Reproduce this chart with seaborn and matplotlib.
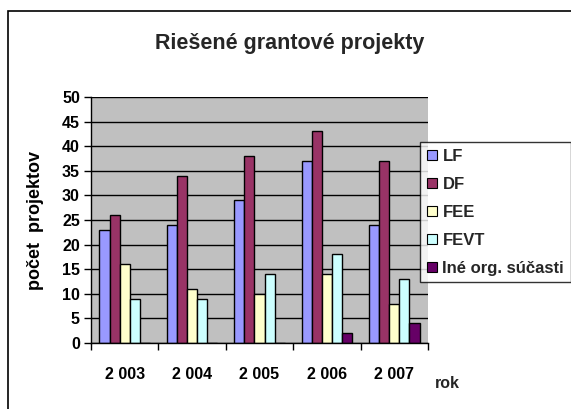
import matplotlib
matplotlib.use("Agg")
import matplotlib.pyplot as plt
import seaborn as sns
import pandas as pd
from matplotlib.patches import Rectangle

years = ["2 003", "2 004", "2 005", "2 006", "2 007"]
series_names = ["LF", "DF", "FEE", "FEVT", "Iné org. súčasti"]
LF = [23, 24, 29, 37, 24]
DF = [26, 34, 38, 43, 37]
FEE = [16, 11, 10, 14, 8]
FEVT = [9, 9, 14, 18, 13]
INE = [0, 0, 0, 2, 4]
colors = ["#9999FF", "#993366", "#FFFFCC", "#CCFFFF", "#660066"]

rows = []
for name, vals in zip(series_names, [LF, DF, FEE, FEVT, INE]):
    for y, v in zip(years, vals):
        rows.append({"rok": y, "seria": name, "pocet": v})
df = pd.DataFrame(rows)

sns.set_theme(style="white")
plt.rcParams['font.family'] = ['Liberation Sans', 'DejaVu Sans']

fig = plt.figure(figsize=(5.71, 4.09), dpi=100)
ax = fig.add_axes([91/571, 1-343/409, (428-91)/571, (343-97)/409])

sns.barplot(data=df, x="rok", y="pocet", hue="seria", hue_order=series_names,
            palette=colors, width=0.75, edgecolor="black", linewidth=1.0,
            saturation=1, ax=ax, legend=False)

ax.set_facecolor("#C0C0C0")
ax.set_ylim(0, 50)
ax.set_xlim(-0.5, 4.5)
ax.set_yticks(range(0, 51, 5))
ax.yaxis.grid(True, color="black", linewidth=1.0)
ax.set_axisbelow(True)
for s in ["top", "right"]:
    ax.spines[s].set_visible(False)
ax.spines["left"].set_color("black")
ax.spines["bottom"].set_color("black")
ax.spines["left"].set_linewidth(1.0)
ax.spines["bottom"].set_linewidth(1.0)
ax.tick_params(axis="y", direction="out", length=5, width=1, color="black",
               labelsize=11.5, pad=3, left=True)
ax.tick_params(axis="x", which="major", length=0, pad=17, labelsize=11.5)
ax.set_xticks([i - 0.5 for i in range(6)], minor=True)
ax.tick_params(axis="x", which="minor", direction="out", length=5, width=1, color="black", bottom=True)
for lab in ax.get_xticklabels() + ax.get_yticklabels():
    lab.set_fontweight("bold")
    lab.set_color("black")
ax.set_xlabel("")
ax.set_ylabel("počet  projektov", fontsize=13, fontweight="bold", color="black")
ax.yaxis.set_label_coords(-0.14, 0.5)

fig.text(447/571, 1-383/409, "rok", fontsize=11.5, fontweight="bold", ha="center", va="center")
fig.text(290/571, 1-44/409, "Riešené grantové projekty", fontsize=15.5, fontweight="bold",
         ha="center", va="center")

# outer chart border
fig.patches.append(Rectangle((8/571, -0.1), 1.2, 1.1 - 11/409, transform=fig.transFigure,
                             fill=False, edgecolor="black", linewidth=1.2))

handles = [Rectangle((0, 0), 1, 1, facecolor=c, edgecolor="black", linewidth=0.8) for c in colors]
leg = fig.legend(handles, series_names, loc="upper left",
                 bbox_to_anchor=(420/571, 1-142/409), borderaxespad=0,
                 frameon=True, fancybox=False, edgecolor="black",
                 prop={"weight": "bold", "size": 12}, handlelength=0.6, handleheight=0.6,
                 handletextpad=0.35, labelspacing=0.78, borderpad=0.4)
leg.get_frame().set_linewidth(1.0)
leg.get_frame().set_facecolor("white")

fig.savefig("out.png", dpi=100)
